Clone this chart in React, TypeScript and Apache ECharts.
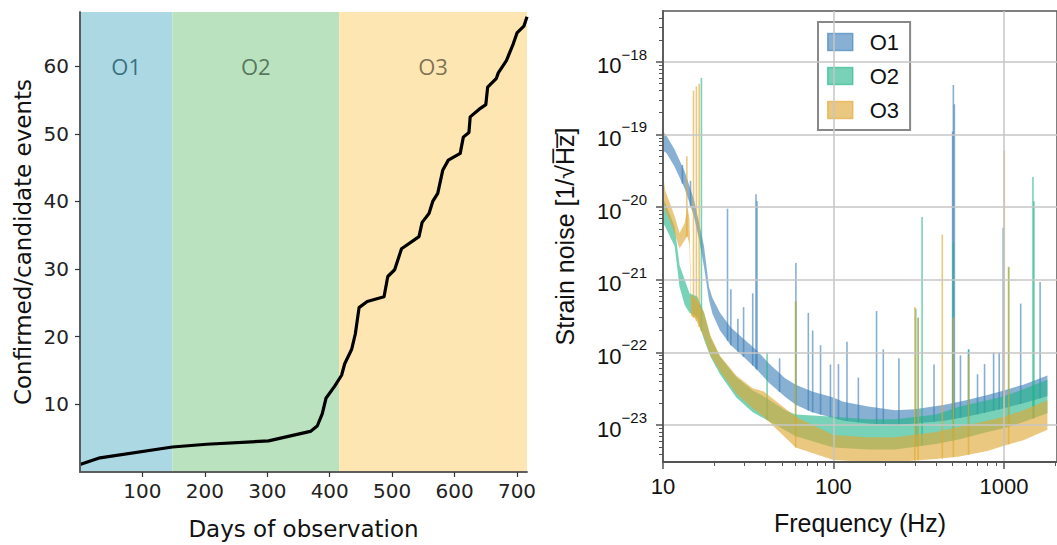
import React, { useEffect, useRef } from "react";
import * as echarts from "echarts";

// ---------- Left panel data ----------
const DAYS = [0, 32, 148, 203, 302, 369, 380, 388, 394, 408, 419, 424, 435, 441, 447, 460, 487, 493, 504, 515, 543, 548, 559, 565, 573, 581, 590, 609, 614, 623, 625, 639, 650, 653, 667, 670, 683, 694, 700, 711, 716];
const EVENTS = [1.1, 2.1, 3.7, 4.1, 4.6, 6.0, 6.8, 8.6, 10.9, 12.7, 14.3, 16, 18.1, 20.4, 24.3, 25.2, 25.9, 28.9, 29.9, 33, 34.8, 36.9, 38.2, 40, 41.2, 44.6, 46.1, 47.1, 49.5, 50.2, 52.5, 53.6, 54.3, 56.9, 58.2, 59, 60.8, 63.3, 64.9, 65.9, 67.3];
const RUN_NAMES = ["O1", "O2", "O3"];
const RUN_START = [0, 148, 415];
const RUN_END = [148, 415, 716];
const RUN_LABEL_LEVEL = 60;
const DAY_TICKS = [100, 200, 300, 400, 500, 600, 700];
const EVENT_TICKS = [10, 20, 30, 40, 50, 60];

// ---------- Right panel data ----------
const O1_FREQ = [10, 10.5, 11.7, 13.4, 15.2, 16.3, 17.4, 18.6, 19.5, 21.6, 25, 30, 35, 42, 52, 60, 75, 100, 114, 160, 230, 300, 450, 600, 800, 1000, 1300, 1800];
const O1_HI = [1.1e-19, 9.5e-20, 6.2e-20, 3.1e-20, 1.26e-20, 6e-21, 2.9e-21, 8e-22, 5.6e-22, 3.5e-22, 2.2e-22, 1.5e-22, 1.1e-22, 7e-23, 4.4e-23, 3.6e-23, 2.9e-23, 2.4e-23, 2.1e-23, 1.8e-23, 1.6e-23, 1.65e-23, 1.9e-23, 2.2e-23, 2.6e-23, 3e-23, 3.6e-23, 4.8e-23];
const O1_LO = [6e-20, 5.5e-20, 3.6e-20, 1.8e-20, 7.4e-21, 3.5e-21, 1.5e-21, 5.3e-22, 3.4e-22, 2e-22, 1.25e-22, 8.5e-23, 6e-23, 3.8e-23, 2.45e-23, 1.9e-23, 1.5e-23, 1.25e-23, 1.15e-23, 1.05e-23, 1e-23, 1.05e-23, 1.15e-23, 1.3e-23, 1.5e-23, 1.7e-23, 2e-23, 2.5e-23];

const O2_FREQ = [10, 10.3, 11.7, 12.5, 13.4, 14.3, 15.9, 17.4, 19, 21.6, 26.9, 33.6, 40, 52, 60, 100, 160, 230, 400, 550, 800, 1000, 1300, 1800];
const O2_HI = [1.3e-20, 1.15e-20, 5.4e-21, 1.6e-21, 1e-21, 6.5e-22, 5.9e-22, 3.5e-22, 1.6e-22, 8.7e-23, 4.6e-23, 3e-23, 2.4e-23, 1.6e-23, 1.4e-23, 1.3e-23, 1.2e-23, 1.2e-23, 1.4e-23, 1.8e-23, 2.2e-23, 2.5e-23, 3.1e-23, 4.2e-23];
const O2_LO = [6e-21, 5.4e-21, 2.9e-21, 8e-22, 4.5e-22, 3.5e-22, 3e-22, 1.5e-22, 8.7e-23, 5e-23, 2.4e-23, 1.5e-23, 1.2e-23, 8.5e-24, 7e-24, 4.9e-24, 4.6e-24, 4.6e-24, 5.5e-24, 6.4e-24, 8e-24, 9e-24, 1.1e-23, 1.45e-23];

const O3_FREQ = [10, 10.3, 11.7, 12.5, 13.4, 13.9, 14.3, 14.6, 15.5, 17.4, 19, 21.6, 26.9, 33.6, 39, 60, 100, 160, 230, 400, 550, 800, 1000, 1300, 1800];
const O3_HI = [2.8e-20, 1.7e-20, 7.5e-21, 4.4e-21, 6e-21, 1e-20, 7e-21, 6e-22, 5.5e-22, 3.6e-22, 1.7e-22, 9e-23, 4.8e-23, 3.2e-23, 2.9e-23, 1.3e-23, 7.3e-24, 6.8e-24, 6.8e-24, 8e-24, 9.5e-24, 1.15e-23, 1.3e-23, 1.6e-23, 2.2e-23];
const O3_LO = [1.2e-20, 9.1e-21, 4.4e-21, 2.7e-21, 3.5e-21, 4e-21, 3e-21, 3.2e-22, 2.9e-22, 1.6e-22, 9e-23, 5.5e-23, 2.7e-23, 1.7e-23, 1.3e-23, 4.9e-24, 3.3e-24, 3.1e-24, 3.1e-24, 3.4e-24, 3.7e-24, 4.4e-24, 5.2e-24, 6.2e-24, 8.6e-24];

const O1_SPIKES = [[13.0, 3.8e-20], [14.5, 2.3e-20], [23.9, 9.5e-21], [25.0, 7.4e-22], [27.5, 2.9e-22], [29.7, 4.2e-22], [33.6, 6.5e-22], [35.1, 1.5e-20], [35.6, 1.2e-20], [48.3, 8.3e-23], [60.2, 1.7e-21], [71.2, 3.5e-22], [75.5, 2e-22], [84, 1.26e-22], [96, 6.8e-23], [107, 6.9e-23], [120, 1.4e-22], [140, 4.5e-23], [179, 3.7e-22], [196, 1.1e-22], [242, 8.3e-23], [389, 6.8e-23], [500, 1.1e-19], [505, 4.8e-19], [512, 2.6e-19], [556, 9.1e-23], [621, 1.1e-22], [700, 5e-23], [770, 6.9e-23], [870, 1e-22], [938, 1e-22], [990, 5.2e-21], [1254, 4.7e-22], [1630, 9.3e-22]];
const O2_SPIKES = [[16.8, 6e-19], [40.8, 1e-22], [60, 5e-22], [304, 4e-22], [314, 3e-22], [331, 7.3e-21], [505, 3.2e-21], [620, 1.1e-22], [1066, 1.5e-21], [1480, 2.6e-20], [1500, 1.2e-20]];
const O3_SPIKES = [[13.8, 5e-20], [15.1, 4e-19], [15.7, 4.6e-19], [16.3, 5e-19], [60, 5e-22], [300, 4.2e-22], [314, 3e-22], [435, 4.2e-21], [505, 3e-22], [620, 9e-23], [1005, 6e-20], [1066, 1.5e-21]];

const FREQ_TICKS = [10, 100, 1000];
const STRAIN_TICKS = [1e-23, 1e-22, 1e-21, 1e-20, 1e-19, 1e-18];
const FREQ_MIN = 10;
const FREQ_MAX = 2048;
const STRAIN_MIN = 3.1e-24;
const STRAIN_MAX = 5e-18;

// ---------- styling ----------
const RUN_BG = ["#acd8e4", "#bae2bf", "#fde6b1"];
const RUN_TEXT = ["#175566", "#3b5a45", "#5c533c"];
const RUN_COLORS = ["rgba(62,128,184,0.62)", "rgba(30,180,135,0.6)", "rgba(224,168,52,0.63)"];

function minorValues(lo: number, hi: number): number[] {
  const out: number[] = [];
  for (let e = Math.floor(Math.log10(lo)); e <= Math.ceil(Math.log10(hi)); e++) {
    for (let m = 2; m <= 9; m++) {
      const v = m * Math.pow(10, e);
      if (v > lo && v < hi) out.push(v);
    }
  }
  return out;
}

function lowerEdge(freqs: number[], lo: number[], f: number): number {
  let i = 0;
  while (i < freqs.length - 2 && freqs[i + 1] < f) i++;
  const t = (Math.log10(f) - Math.log10(freqs[i])) / (Math.log10(freqs[i + 1]) - Math.log10(freqs[i]));
  const tt = Math.max(0, Math.min(1, t));
  return Math.pow(10, Math.log10(lo[i]) + tt * (Math.log10(lo[i + 1]) - Math.log10(lo[i])));
}

function bandSeries(name: string, color: string, freqs: number[], hi: number[], lo: number[]) {
  return {
    type: "custom",
    name,
    xAxisIndex: 2,
    yAxisIndex: 2,
    clip: true,
    z: 3,
    itemStyle: { color, borderColor: color },
    data: freqs.map((f, i) => [f, hi[i], lo[i]]),
    encode: { x: 0, y: [1, 2] },
    renderItem: (params: any, api: any) => {
      if (params.dataIndex !== 0) return null;
      const pts: number[][] = [];
      for (let i = 0; i < freqs.length; i++) pts.push(api.coord([freqs[i], hi[i]]));
      for (let i = freqs.length - 1; i >= 0; i--) pts.push(api.coord([freqs[i], lo[i]]));
      return { type: "polygon", shape: { points: pts }, style: { fill: color } };
    },
  };
}

function spikeSeries(name: string, color: string, spikes: number[][], freqs: number[], lo: number[]) {
  return {
    type: "custom",
    name,
    xAxisIndex: 2,
    yAxisIndex: 2,
    clip: true,
    z: 3,
    itemStyle: { color },
    data: spikes,
    encode: { x: 0, y: 1 },
    renderItem: (params: any, api: any) => {
      const f = api.value(0);
      const top = api.value(1);
      const base = lowerEdge(freqs, lo, f);
      const p1 = api.coord([f, top]);
      const p2 = api.coord([f, base]);
      return {
        type: "line",
        shape: { x1: p1[0], y1: p1[1], x2: p2[0], y2: p2[1] },
        style: { stroke: color, lineWidth: 1.6 },
      };
    },
  };
}

export default function App() {
  const ref = useRef<HTMLDivElement>(null);
  useEffect(() => {
    document.body.style.margin = "0";
    if (!ref.current) return;
    const chart = echarts.init(ref.current, undefined, { renderer: "svg" });

    const leftFont = "DejaVu Sans";
    const rightFont = "Liberation Sans";
    const rightGridWidth = 175 * Math.log10(FREQ_MAX / FREQ_MIN);

    const frameLine = { show: true, lineStyle: { color: "#555", width: 1.5 } };
    const hiddenAxisParts = {
      axisTick: { show: false },
      axisLabel: { show: false },
      splitLine: { show: false },
    };

    const option: any = {
      animation: false,
      backgroundColor: "#ffffff",
      grid: [
        { left: 80, top: 12, width: 447, height: 460, show: false },
        {
          left: 663,
          top: 11,
          width: rightGridWidth,
          height: 451,
          show: true,
          borderColor: "#555",
          borderWidth: 1.5,
          backgroundColor: "transparent",
        },
      ],
      legend: {
        orient: "vertical",
        left: 818,
        top: 22,
        padding: [8, 11, 8, 9],
        itemWidth: 25,
        itemHeight: 17,
        itemGap: 10,
        icon: "rect",
        borderColor: "#888",
        borderWidth: 2,
        borderRadius: 0,
        backgroundColor: "rgba(255,255,255,0.8)",
        selectedMode: false,
        itemStyle: { borderWidth: 1.5 },
        textStyle: {
          fontSize: 22,
          fontFamily: rightFont,
          color: "#111",
          padding: [0, 0, 0, 12],
          lineHeight: 24,
        },
        data: RUN_NAMES,
      },
      xAxis: [
        {
          type: "value",
          gridIndex: 0,
          position: "bottom",
          min: 0,
          max: 716,
          z: 10,
          axisLine: frameLine,
          axisTick: { show: true, length: 5, lineStyle: { color: "#333", width: 1.2 }, customValues: DAY_TICKS },
          axisLabel: { fontSize: 20, fontFamily: leftFont, color: "#222", margin: 9, customValues: DAY_TICKS },
          splitLine: { show: false },
          name: "Days of observation",
          nameLocation: "middle",
          nameGap: 45,
          nameTextStyle: { fontSize: 23, fontFamily: leftFont, color: "#111" },
        },
        {
          type: "value",
          gridIndex: 0,
          position: "top",
          min: 0,
          max: 716,
          z: 10,
          axisLine: frameLine,
          ...hiddenAxisParts,
        },
        {
          type: "log",
          gridIndex: 1,
          position: "bottom",
          min: FREQ_MIN,
          max: FREQ_MAX,
          logBase: 10,
          z: 10,
          axisLine: { show: true, lineStyle: { color: "#555", width: 1.8 } },
          axisTick: { show: true, length: 7, lineStyle: { color: "#555", width: 1.5 }, customValues: FREQ_TICKS },
          axisLabel: {
            fontSize: 22,
            fontFamily: rightFont,
            color: "#111",
            margin: 13,
            customValues: FREQ_TICKS,
            formatter: (v: number) => String(Math.round(v)),
          },
          splitLine: { show: true, lineStyle: { color: "#c6c6c6", width: 1.5 } },
          name: "Frequency (Hz)",
          nameLocation: "middle",
          nameGap: 48,
          nameTextStyle: { fontSize: 25, fontFamily: rightFont, color: "#111" },
        },
        {
          type: "log",
          gridIndex: 1,
          position: "bottom",
          min: FREQ_MIN,
          max: FREQ_MAX,
          logBase: 10,
          z: 10,
          axisLine: { show: false },
          axisTick: { show: true, length: 4, lineStyle: { color: "#555", width: 1 }, customValues: minorValues(FREQ_MIN, FREQ_MAX) },
          axisLabel: { show: false },
          splitLine: { show: false },
        },
      ],
      yAxis: [
        {
          type: "value",
          gridIndex: 0,
          position: "left",
          min: 0,
          max: 68,
          z: 10,
          axisLine: frameLine,
          axisTick: { show: true, length: 5, lineStyle: { color: "#333", width: 1.2 }, customValues: EVENT_TICKS },
          axisLabel: { fontSize: 20, fontFamily: leftFont, color: "#222", margin: 11, customValues: EVENT_TICKS },
          splitLine: { show: false },
          name: "Confirmed/candidate events",
          nameLocation: "middle",
          nameGap: 46,
          nameTextStyle: { fontSize: 23, fontFamily: leftFont, color: "#111" },
        },
        {
          type: "value",
          gridIndex: 0,
          position: "right",
          min: 0,
          max: 68,
          z: 10,
          axisLine: frameLine,
          ...hiddenAxisParts,
        },
        {
          type: "log",
          gridIndex: 1,
          position: "left",
          min: STRAIN_MIN,
          max: STRAIN_MAX,
          logBase: 10,
          z: 10,
          axisLine: { show: true, lineStyle: { color: "#555", width: 1.8 } },
          axisTick: { show: true, length: 7, lineStyle: { color: "#555", width: 1.5 }, customValues: STRAIN_TICKS },
          axisLabel: {
            customValues: STRAIN_TICKS,
            margin: 16,
            fontFamily: rightFont,
            color: "#111",
            formatter: (v: number) => {
              const e = Math.round(Math.log10(v));
              return "{b|10}{s|\u2212" + Math.abs(e) + "}";
            },
            rich: {
              b: { fontSize: 22, fontFamily: rightFont, color: "#111", lineHeight: 30, verticalAlign: "bottom" },
              s: { fontSize: 15, fontFamily: rightFont, color: "#111", lineHeight: 30, verticalAlign: "top" },
            },
          },
          splitLine: { show: true, lineStyle: { color: "#c6c6c6", width: 1.5 } },
          name: "Strain noise [1/\u221AH\u0305z\u0305]",
          nameLocation: "middle",
          nameGap: 86,
          nameTextStyle: { fontSize: 25, fontFamily: rightFont, color: "#111" },
        },
        {
          type: "log",
          gridIndex: 1,
          position: "left",
          min: STRAIN_MIN,
          max: STRAIN_MAX,
          logBase: 10,
          z: 10,
          axisLine: { show: false },
          axisTick: { show: true, length: 4, lineStyle: { color: "#555", width: 1 }, customValues: minorValues(STRAIN_MIN, STRAIN_MAX) },
          axisLabel: { show: false },
          splitLine: { show: false },
        },
      ],
      series: [
        {
          type: "line",
          name: "events",
          xAxisIndex: 0,
          yAxisIndex: 0,
          data: DAYS.map((d, i) => [d, EVENTS[i]]),
          showSymbol: false,
          symbol: "none",
          z: 5,
          lineStyle: { color: "#000", width: 3.2, join: "round" },
          markArea: {
            silent: true,
            data: RUN_NAMES.map((n, i) => [
              { xAxis: RUN_START[i], itemStyle: { color: RUN_BG[i], opacity: 1 } },
              { xAxis: RUN_END[i] },
            ]),
          },
        },
        {
          type: "scatter",
          name: "run labels",
          xAxisIndex: 0,
          yAxisIndex: 0,
          symbolSize: 0,
          z: 6,
          data: RUN_NAMES.map((n, i) => ({
            value: [(RUN_START[i] + RUN_END[i]) / 2, RUN_LABEL_LEVEL],
            name: n,
            label: { color: RUN_TEXT[i] },
          })),
          label: {
            show: true,
            position: "inside",
            formatter: (p: any) => p.name,
            fontSize: 22,
            fontFamily: "Open Sans",
          },
        },
        bandSeries("O1", RUN_COLORS[0], O1_FREQ, O1_HI, O1_LO),
        spikeSeries("O1", RUN_COLORS[0], O1_SPIKES, O1_FREQ, O1_LO),
        bandSeries("O2", RUN_COLORS[1], O2_FREQ, O2_HI, O2_LO),
        spikeSeries("O2", RUN_COLORS[1], O2_SPIKES, O2_FREQ, O2_LO),
        bandSeries("O3", RUN_COLORS[2], O3_FREQ, O3_HI, O3_LO),
        spikeSeries("O3", RUN_COLORS[2], O3_SPIKES, O3_FREQ, O3_LO),
      ],
    };
    chart.setOption(option);
    return () => chart.dispose();
  }, []);
  return <div ref={ref} style={{ width: 1057, height: 545, overflow: "hidden" }} />;
}
